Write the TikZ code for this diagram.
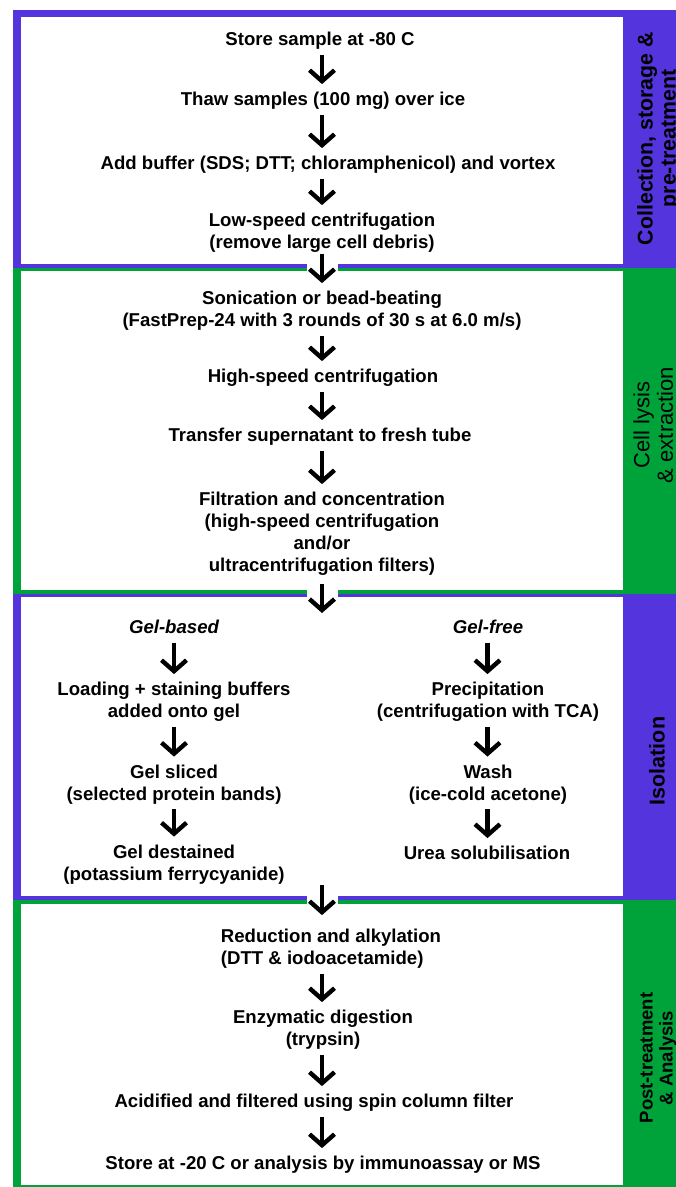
\documentclass[tikz,border=0pt]{standalone}
\usepackage{fontspec}
\setmainfont{Liberation Sans}
\usetikzlibrary{arrows.meta}
\definecolor{secblue}{RGB}{84,52,221}
\definecolor{secgreen}{RGB}{0,163,58}
\begin{document}
\begin{tikzpicture}[x=1pt,y=-1pt,
  txt/.style={inner sep=0pt, align=center, font=\fontsize{18.6}{22}\selectfont\bfseries},
  flow/.style={line width=4.4pt, -{Straight Barb[length=11pt,width=25pt]}, shorten <=2pt, shorten >=6pt},
  side/.style={inner sep=0pt, align=center, rotate=90}]
\useasboundingbox (0,0) rectangle (676,1187);
% section backgrounds
\fill[secblue] (13,10) rectangle (676,268);
\fill[white] (21,17) rectangle (623,264);
\fill[secgreen] (13,268) rectangle (676,593.5);
\fill[white] (21,271) rectangle (623,590);
\fill[secblue] (13,593.5) rectangle (676,900);
\fill[white] (21,597) rectangle (623,896);
\fill[secgreen] (13,900) rectangle (676,1187);
\fill[white] (21,904) rectangle (623,1185);
% gaps in boundaries
\fill[white] (307,263) rectangle (338,272);
\fill[white] (307,589) rectangle (338,598);
\fill[white] (307,895) rectangle (338,905);
% column guides
\coordinate (mid) at (322,0);
\coordinate (colL) at (174,0);
\coordinate (colR) at (487.5,0);
\coordinate (in3) at (322,613);
\coordinate (out3) at (322,885);
% section 1
\node[txt] (store) at (320,41.3) {\strut Store sample at -80 C};
\node[txt] (thaw) at (323,101.3) {\strut Thaw samples (100 mg) over ice};
\node[txt] (add) at (328,165.3) {\strut Add buffer (SDS; DTT; chloramphenicol) and vortex};
\node[txt] (low) at (322,233.3) {\strut Low-speed centrifugation\\\strut (remove large cell debris)};
% section 2
\node[txt] (soni) at (322,311.3) {\strut Sonication or bead-beating\\\strut (FastPrep-24 with 3 rounds of 30 s at 6.0 m/s)};
\node[txt] (high) at (323,378.3) {\strut High-speed centrifugation};
\node[txt] (trans) at (320,437.3) {\strut Transfer supernatant to fresh tube};
\node[txt] (filt) at (322,534.3) {\strut Filtration and concentration\\\strut (high-speed centrifugation\\\strut and/or\\\strut ultracentrifugation filters)};
% section 3
\node[txt] (gb) at (174,629.3) {\strut\itshape Gel-based};
\node[txt] (gf) at (488,629.3) {\strut\itshape Gel-free};
\node[txt] (load) at (174,702.3) {\strut Loading + staining buffers\\\strut added onto gel};
\node[txt] (prec) at (488,702.3) {\strut Precipitation\\\strut (centrifugation with TCA)};
\node[txt] (slice) at (174,784.8) {\strut Gel sliced\\\strut (selected protein bands)};
\node[txt] (wash) at (488,784.8) {\strut Wash\\\strut (ice-cold acetone)};
\node[txt] (dest) at (174,864.8) {\strut Gel destained\\\strut (potassium ferrycyanide)};
\node[txt] (urea) at (487,855.3) {\strut Urea solubilisation};
% section 4
\node[txt,align=left] (red) at (331,949.3) {\strut Reduction and alkylation\\\strut (DTT \& iodoacetamide)};
\node[txt] (enz) at (323,1030.3) {\strut Enzymatic digestion\\\strut (trypsin)};
\node[txt] (acid) at (314,1103.3) {\strut Acidified and filtered using spin column filter};
\node[txt] (final) at (323,1165.3) {\strut Store at -20 C or analysis by immunoassay or MS};
% arrows
\draw[flow] (store.south -| mid) -- (thaw.north -| mid);
\draw[flow] (thaw.south -| mid) -- (add.north -| mid);
\draw[flow] (add.south -| mid) -- (low.north -| mid);
\draw[flow, shorten <=-2pt] (low.south -| mid) -- (soni.north -| mid);
\draw[flow] (soni.south -| mid) -- (high.north -| mid);
\draw[flow] (high.south -| mid) -- (trans.north -| mid);
\draw[flow] (trans.south -| mid) -- (filt.north -| mid);
\draw[flow, shorten <=5pt, shorten >=0pt] (filt.south -| mid) -- (in3);
\draw[flow] (gb.south -| colL) -- (load.north -| colL);
\draw[flow] (load.south -| colL) -- (slice.north -| colL);
\draw[flow] (slice.south -| colL) -- (dest.north -| colL);
\draw[flow] (gf.south -| colR) -- (prec.north -| colR);
\draw[flow] (prec.south -| colR) -- (wash.north -| colR);
\draw[flow] (wash.south -| colR) -- (urea.north -| colR);
\draw[flow, shorten <=0pt, shorten >=12pt] (out3) -- (red.north -| mid);
\draw[flow] (red.south -| mid) -- (enz.north -| mid);
\draw[flow] (enz.south -| mid) -- (acid.north -| mid);
\draw[flow] (acid.south -| mid) -- (final.north -| mid);
% side labels
\node[side, font=\fontsize{21.3}{23}\selectfont\bfseries] (lab1) at (659.5,138.5) {\strut Collection, storage \&\\\strut pre-treatment};
\node[side, font=\fontsize{22}{22}\selectfont] (lab2) at (656.5,425) {\strut Cell lysis\\\strut \& extraction};
\node[side, font=\fontsize{21.5}{23.6}\selectfont\bfseries] (lab3) at (660,761) {\strut Isolation};
\node[side, font=\fontsize{18.5}{20}\selectfont\bfseries] (lab4) at (658.6,1058) {\strut Post-treatment\\\strut \& Analysis};
\end{tikzpicture}
\end{document}
